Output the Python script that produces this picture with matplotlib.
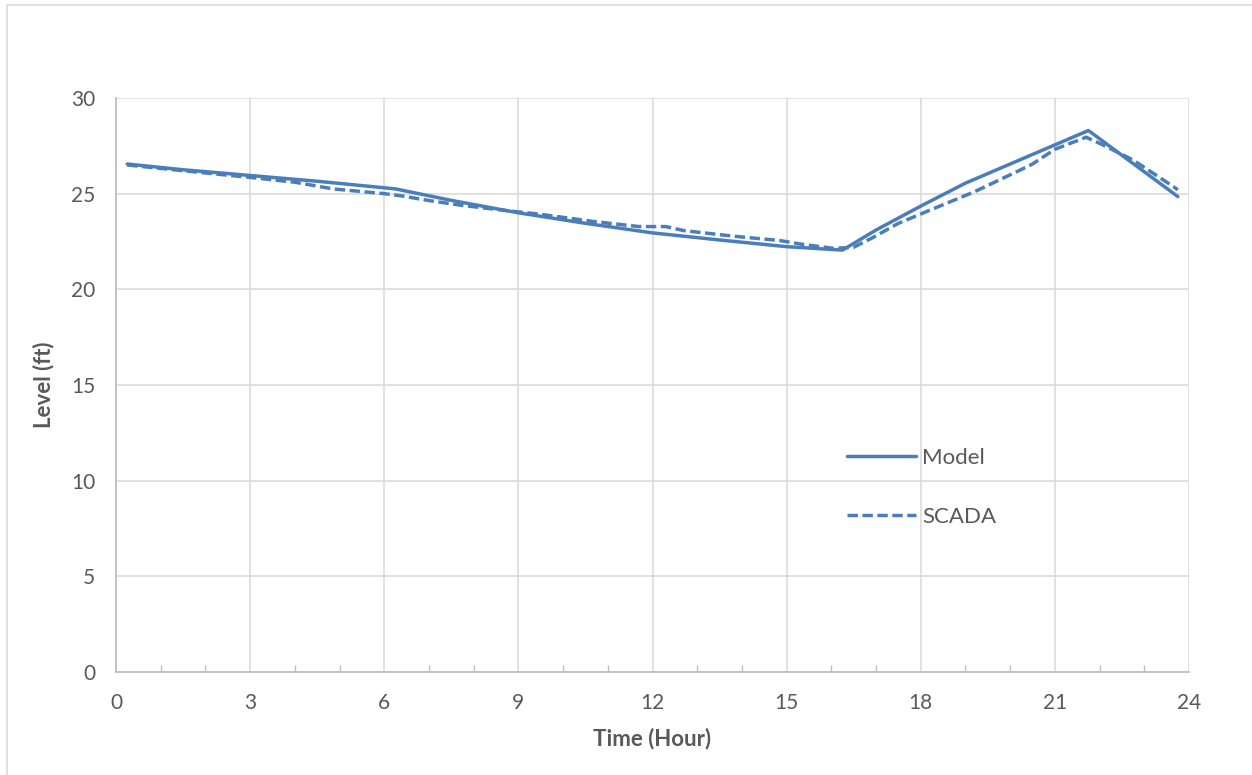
import matplotlib
matplotlib.use("Agg")
import matplotlib.pyplot as plt
from matplotlib.patches import Rectangle
from matplotlib.ticker import MultipleLocator

# ---- data ----
model_time = [0.25, 1.5, 3, 4.5, 6.25, 7.5, 9, 10.5, 12, 13.5, 15, 16.25, 17, 18, 19, 20.4, 21.75, 23.75]
model_level = [26.55, 26.25, 25.95, 25.65, 25.25, 24.65, 24.0, 23.45, 22.95, 22.58, 22.23, 22.05,
               23.1, 24.35, 25.55, 26.95, 28.3, 24.85]

scada_time = [0.25, 1.5, 3, 4.0, 4.85, 6, 6.4, 7, 7.7, 8.6, 9.5, 10.7, 11.7, 12.3, 12.7, 13.8,
              14.85, 15.3, 16.05, 16.5, 16.9, 17.5, 18.3, 19.2, 20.15, 20.5, 21, 21.7, 22, 22.75,
              23.65, 23.75]
scada_level = [26.5, 26.2, 25.85, 25.6, 25.25, 25.0, 24.88, 24.64, 24.4, 24.15, 23.92, 23.54, 23.28,
               23.28, 23.07, 22.78, 22.55, 22.37, 22.14, 22.2, 22.67, 23.45, 24.23, 25.1, 26.15,
               26.55, 27.32, 27.95, 27.63, 26.76, 25.37, 25.2]

series_labels = ["Model", "SCADA"]
x_ticks = [0, 3, 6, 9, 12, 15, 18, 21, 24]
y_ticks = [0, 5, 10, 15, 20, 25, 30]

# ---- style ----
plt.rcParams['font.family'] = ['Lato', 'DejaVu Sans']
txt = '#595959'
grid = '#d9d9d9'
axc = '#bfbfbf'
blue = '#4a7ebb'

fig = plt.figure(figsize=(12.52, 7.75), dpi=100)
fig.patches.append(Rectangle((7 / 1252, -0.1), 1.2, 1.1 - 5 / 775,
                             transform=fig.transFigure, fill=False, edgecolor=grid, lw=1.2))
ax = fig.add_axes([116 / 1252, 1 - 672 / 775, (1189 - 116) / 1252, (672 - 98) / 775])

ax.plot(model_time, model_level, color=blue, lw=2.5, label=series_labels[0],
        solid_capstyle='round', solid_joinstyle='round')
ax.plot(scada_time, scada_level, color=blue, lw=2.5, label=series_labels[1],
        linestyle=(0, (3.0, 1.3)), dash_capstyle='butt')

ax.set_xlim(0, 24)
ax.set_ylim(0, 30)
ax.set_xticks(x_ticks)
ax.set_yticks(y_ticks)
ax.xaxis.set_minor_locator(MultipleLocator(1))
ax.grid(True, which='major', color=grid, lw=1.1)
ax.set_axisbelow(True)

for s in ['top', 'right']:
    ax.spines[s].set_visible(False)
for s in ['left', 'bottom']:
    ax.spines[s].set_color(axc)
    ax.spines[s].set_linewidth(1.3)

ax.tick_params(axis='x', which='major', direction='in', length=0, pad=15, labelsize=15, labelcolor=txt)
ax.tick_params(axis='x', which='minor', direction='in', length=5, width=1, color=axc)
ax.tick_params(axis='y', which='major', length=0, pad=15, labelsize=15, labelcolor=txt)

ax.set_xlabel("Time (Hour)", fontsize=16, fontweight='bold', color=txt, labelpad=11)
ax.set_ylabel("Level (ft)", fontsize=16, fontweight='bold', color=txt, labelpad=12)

leg = ax.legend(loc='upper left', bbox_to_anchor=(0.681, 0.39), frameon=False, fontsize=16,
                handlelength=3.1, handletextpad=0.3, labelspacing=1.75, borderpad=0,
                borderaxespad=0)
for t in leg.get_texts():
    t.set_color(txt)

fig.savefig("out.png", dpi=100)
